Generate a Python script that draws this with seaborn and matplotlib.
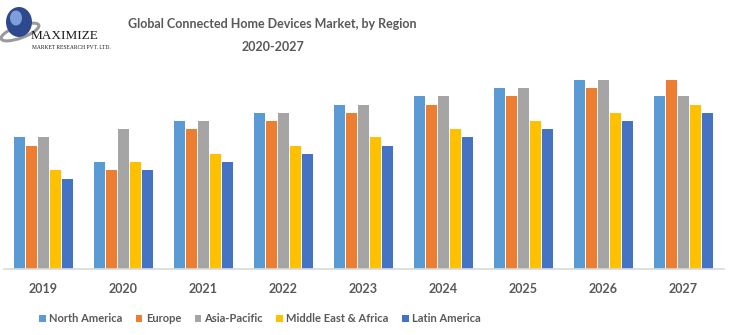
import matplotlib
matplotlib.use("Agg")
import matplotlib.pyplot as plt
import seaborn as sns
import pandas as pd
from matplotlib.patches import Patch, Ellipse

years = ["2019", "2020", "2021", "2022", "2023", "2024", "2025", "2026", "2027"]
regions = ["North America", "Europe", "Asia-Pacific", "Middle East & Africa", "Latin America"]
north_america = [16, 13, 18, 19, 20, 21, 22, 23, 21]
europe = [15, 12, 17, 18, 19, 20, 21, 22, 23]
asia_pacific = [16, 17, 18, 19, 20, 21, 22, 23, 21]
middle_east_africa = [12, 13, 14, 15, 16, 17, 18, 19, 20]
latin_america = [11, 12, 13, 14, 15, 16, 17, 18, 19]
colors = ["#5B9BD5", "#ED7D31", "#A5A5A5", "#FFC000", "#4472C4"]

series = [north_america, europe, asia_pacific, middle_east_africa, latin_america]
rows = []
for reg, vals in zip(regions, series):
    for y, v in zip(years, vals):
        rows.append({"Year": y, "Region": reg, "Value": v})
df = pd.DataFrame(rows)

sns.set_theme(style="white")
plt.rcParams['font.family'] = ['Lato', 'DejaVu Sans']

fig = plt.figure(figsize=(7.36, 3.35), dpi=100)
ax = fig.add_axes([3.5 / 736, 66 / 335, 720 / 736, 199 / 335])
sns.barplot(data=df, x="Year", y="Value", hue="Region", order=years, hue_order=regions,
            palette=colors, width=0.76, gap=0.12, ax=ax, legend=False, saturation=1,
            linewidth=0)
ax.set_ylim(0, 24.2)
ax.set_xlim(-0.5, len(years) - 0.5)
ax.set_xlabel("")
ax.set_ylabel("")
ax.set_yticks([])
for s in ["top", "right", "left"]:
    ax.spines[s].set_visible(False)
ax.spines["bottom"].set_color("#D9D9D9")
ax.spines["bottom"].set_linewidth(1.2)
ax.tick_params(axis="x", length=0, pad=10)
for lbl in ax.get_xticklabels():
    lbl.set_fontsize(9)
    lbl.set_fontweight("bold")
    lbl.set_color("#595959")

handles = [Patch(facecolor=c, edgecolor="none", label=r) for c, r in zip(colors, regions)]
fig.legend(handles=handles, loc="center", bbox_to_anchor=(260 / 736, 1 - 319 / 335), ncol=5,
           frameon=False, handlelength=0.6, handleheight=0.6, handletextpad=0.3,
           columnspacing=1.2, prop={"size": 8, "weight": "bold"}, labelcolor="#595959")

fig.text(272 / 736, 1 - 24 / 335, "Global Connected Home Devices Market, by Region",
         ha="center", va="center", fontsize=9, fontweight="bold", color="#595959")
fig.text(273 / 736, 1 - 47 / 335, "2020-2027",
         ha="center", va="center", fontsize=9, fontweight="bold", color="#595959")

# Logo
lax = fig.add_axes([0, 1 - 60 / 335, 120 / 736, 60 / 335])
lax.set_xlim(0, 120)
lax.set_ylim(60, 0)
lax.axis("off")
lax.add_patch(Ellipse((20, 32), 40, 12, angle=-20, facecolor="none", edgecolor="#9a9a9a", linewidth=2.2))
lax.add_patch(Ellipse((19, 22), 26, 30, facecolor="#2E4A8C", edgecolor="none"))
lax.add_patch(Ellipse((16, 18), 12, 15, facecolor="#7F9FDA", edgecolor="none"))
lax.text(31, 36, "MAXIMIZE", ha="left", va="center", fontsize=9.5,
         family="Liberation Serif", color="#1a1a1a")
lax.text(32, 47.5, "MARKET RESEARCH PVT. LTD.", ha="left", va="center", fontsize=4,
         family="Liberation Serif", color="#1a1a1a")

fig.savefig("out.png", dpi=100)
